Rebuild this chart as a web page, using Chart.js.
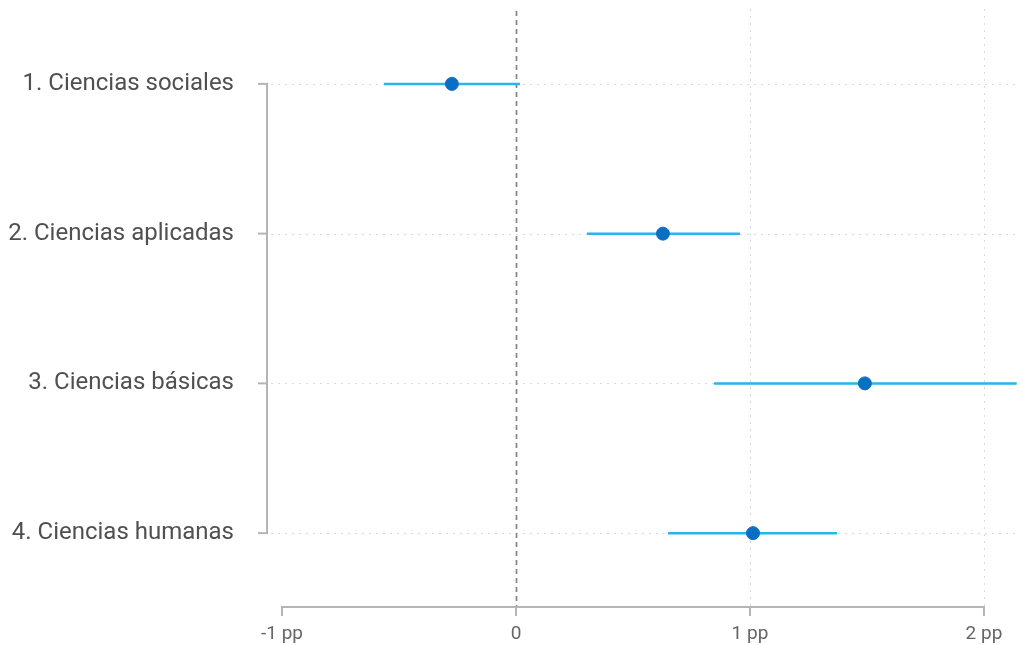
<!DOCTYPE html>
<html>
<head>
<meta charset="utf-8">
<script src="https://cdn.jsdelivr.net/npm/chart.js@4.4.1/dist/chart.umd.min.js"></script>
<style>
  html, body { margin: 0; padding: 0; background: #fff; }
  #wrap { position: relative; width: 1020px; height: 645px; }
</style>
</head>
<body>
<div id="wrap"><canvas id="c" width="1020" height="645"></canvas></div>
<script>
// Areas of study and the estimated effect (percentage points) with its interval
const categories = ['1. Ciencias sociales', '2. Ciencias aplicadas', '3. Ciencias básicas', '4. Ciencias humanas'];
const estimates = [-0.274, 0.628, 1.491, 1.013];
const lowerBounds = [-0.564, 0.303, 0.846, 0.650];
const upperBounds = [0.017, 0.957, 2.14, 1.372];
const xTicks = [-1, 0, 1, 2];
const xTickLabels = ['-1 pp', '0', '1 pp', '2 pp'];

const rows = categories.map((_, i) => i + 1);

// interval segments, separated by gaps
const intervalPoints = [];
rows.forEach((r, i) => {
  intervalPoints.push({ x: lowerBounds[i], y: r });
  intervalPoints.push({ x: upperBounds[i], y: r });
  intervalPoints.push({ x: null, y: r });
});
const estimatePoints = rows.map((r, i) => ({ x: estimates[i], y: r }));

// background guides and truncated axes
const guides = {
  id: 'guides',
  beforeDatasetsDraw(chart) {
    const { ctx, chartArea: a, scales: { x, y } } = chart;
    ctx.save();
    // dotted horizontal guides per row
    ctx.strokeStyle = '#d9d9d9';
    ctx.lineWidth = 1;
    ctx.setLineDash([2, 5]);
    rows.forEach(r => {
      const py = Math.round(y.getPixelForValue(r)) + 0.5;
      ctx.beginPath(); ctx.moveTo(a.left, py); ctx.lineTo(a.right, py); ctx.stroke();
    });
    // dotted vertical guides at positive ticks
    [1, 2].forEach(v => {
      const px = Math.round(x.getPixelForValue(v)) + 0.5;
      ctx.beginPath(); ctx.moveTo(px, a.top); ctx.lineTo(px, a.bottom); ctx.stroke();
    });
    // reference line at zero
    ctx.strokeStyle = '#858585';
    ctx.lineWidth = 1.7;
    ctx.setLineDash([5, 4]);
    const zx = Math.round(x.getPixelForValue(0)) + 0.5;
    ctx.beginPath(); ctx.moveTo(zx, a.top + 2); ctx.lineTo(zx, a.bottom - 1); ctx.stroke();
    ctx.setLineDash([]);

    // truncated axes
    ctx.strokeStyle = '#b5b5b5';
    ctx.lineWidth = 2;
    const ax = a.left - 4;
    const y1 = y.getPixelForValue(rows[0]);
    const y4 = y.getPixelForValue(rows[rows.length - 1]);
    ctx.beginPath(); ctx.moveTo(ax, y1); ctx.lineTo(ax, y4); ctx.stroke();
    rows.forEach(r => {
      const py = y.getPixelForValue(r);
      ctx.beginPath(); ctx.moveTo(ax - 9, py); ctx.lineTo(ax + 1, py); ctx.stroke();
    });
    const by = a.bottom - 1;
    const xa = x.getPixelForValue(xTicks[0]);
    const xb = x.getPixelForValue(xTicks[xTicks.length - 1]);
    ctx.beginPath(); ctx.moveTo(xa, by); ctx.lineTo(xb, by); ctx.stroke();
    xTicks.forEach(v => {
      const px = x.getPixelForValue(v);
      ctx.beginPath(); ctx.moveTo(px, by - 1); ctx.lineTo(px, by + 9); ctx.stroke();
    });
    ctx.restore();
  }
};

new Chart(document.getElementById('c'), {
  type: 'scatter',
  data: {
    datasets: [
      {
        type: 'line',
        data: intervalPoints,
        borderColor: '#27b4ef',
        borderWidth: 2.5,
        pointRadius: 0,
        spanGaps: false,
        fill: false,
        clip: false,
        order: 2
      },
      {
        data: estimatePoints,
        backgroundColor: '#0a6fc2',
        borderColor: '#0a6fc2',
        pointRadius: 6.5,
        pointHoverRadius: 6.5,
        order: 1
      }
    ]
  },
  options: {
    responsive: false,
    animation: false,
    events: [],
    layout: { autoPadding: false, padding: { top: 9, right: 0, bottom: 0, left: 0 } },
    plugins: { legend: { display: false }, tooltip: { enabled: false } },
    scales: {
      x: {
        type: 'linear',
        min: -1.047,
        max: 2.154,
        afterBuildTicks(s) { s.ticks = xTicks.map(v => ({ value: v })); },
        afterFit(s) { s.height = 37; s.paddingLeft = 0; s.paddingRight = 0; },
        grid: { display: false, drawTicks: false },
        border: { display: false },
        ticks: {
          padding: 15,
          autoSkip: false,
          maxRotation: 0,
          color: '#666666',
          font: { family: 'Roboto', size: 19 },
          callback(v) { const i = xTicks.indexOf(v); return i >= 0 ? xTickLabels[i] : ''; }
        }
      },
      y: {
        type: 'linear',
        reverse: true,
        min: 0.5,
        max: 4.5,
        afterBuildTicks(s) { s.ticks = rows.map(v => ({ value: v })); },
        afterFit(s) { s.width = 271; s.paddingTop = 0; s.paddingBottom = 0; },
        grid: { display: false, drawTicks: false },
        border: { display: false },
        ticks: {
          padding: 37,
          autoSkip: false,
          color: '#505050',
          font: { family: 'Roboto', size: 24 },
          callback(v) { const i = rows.indexOf(v); return i >= 0 ? categories[i] : ''; }
        }
      }
    }
  },
  plugins: [guides]
});
</script>
</body>
</html>
